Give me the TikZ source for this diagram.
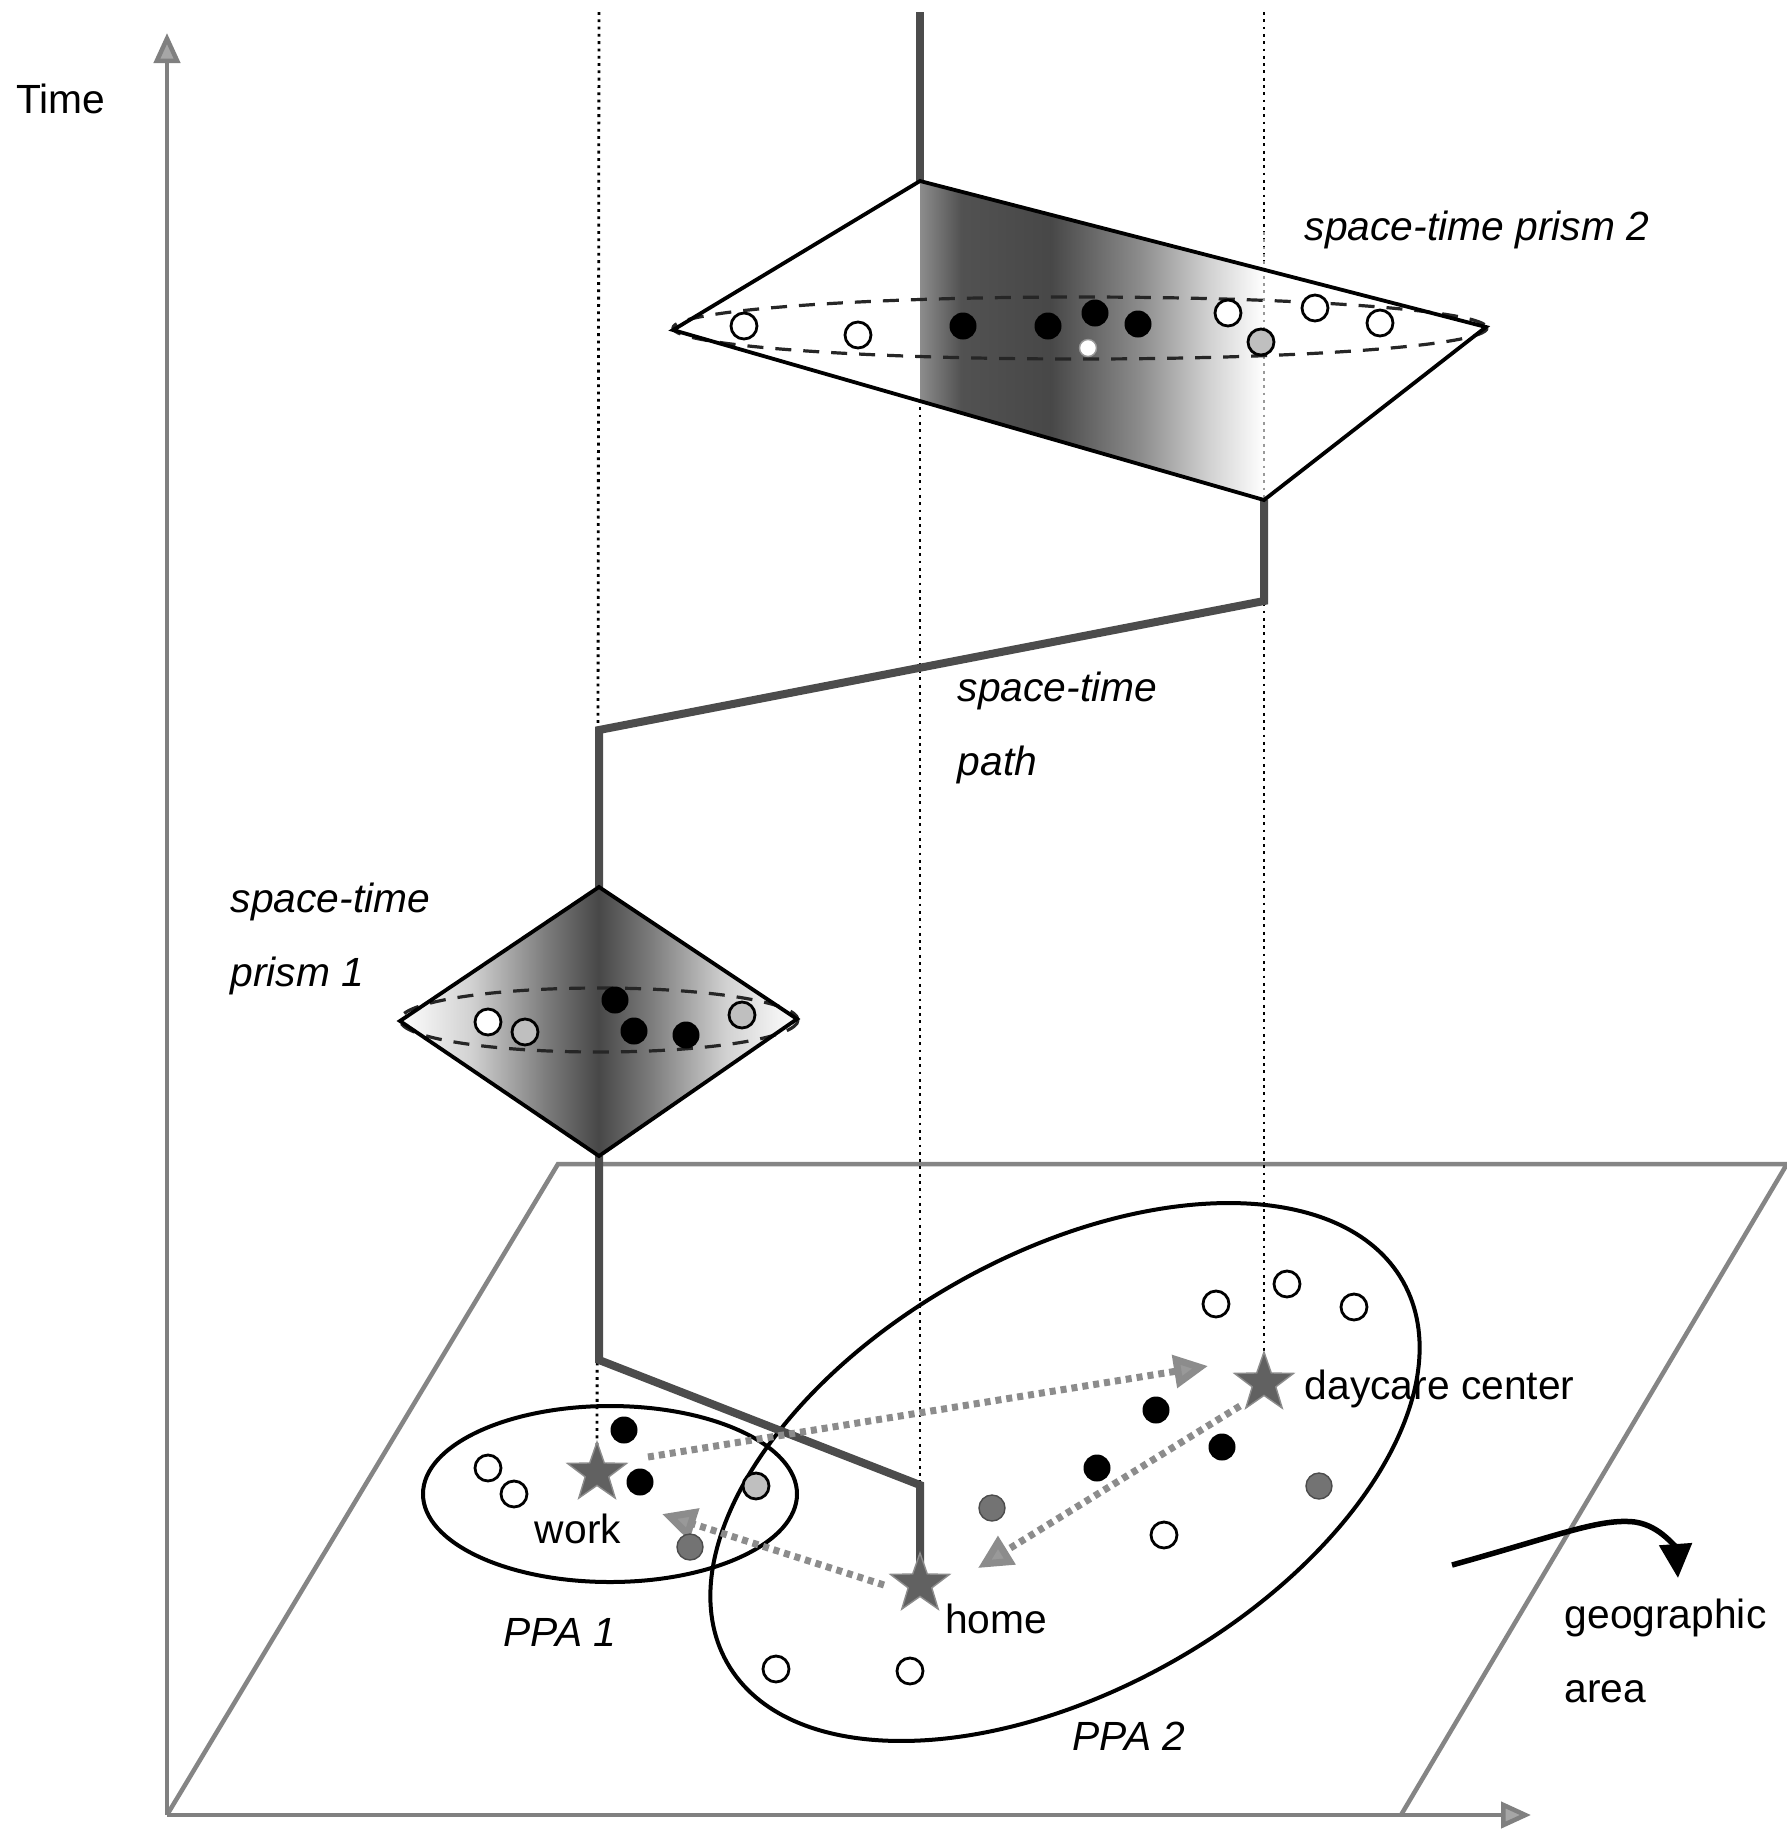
\documentclass[tikz,border=0pt]{standalone}
\usepackage{fontspec}
\setmainfont{Liberation Sans}
\usetikzlibrary{shapes.geometric,arrows.meta}
\pgfdeclarehorizontalshading{prismtwo}{100bp}{color(0bp)=(black!45); color(25bp)=(black!45); color(31bp)=(black!68); color(44bp)=(black!72); color(57bp)=(black!45); color(67bp)=(black!18); color(75bp)=(white); color(100bp)=(white)}
\pgfdeclarehorizontalshading{prismone}{100bp}{color(0bp)=(white); color(25bp)=(white); color(34bp)=(black!18); color(43bp)=(black!50); color(50bp)=(black!72); color(57bp)=(black!50); color(66bp)=(black!18); color(75bp)=(white); color(100bp)=(white)}
\begin{document}
\begin{tikzpicture}[x=0.1mm,y=-0.1mm,
  every node/.style={font=\fontsize{11.6pt}{14pt}\selectfont, inner sep=0pt},
  axisline/.style={draw=black!50, line width=0.45mm},
  planeline/.style={draw=black!48, line width=0.45mm},
  dotline/.style={draw=black, line width=0.28mm, dash pattern=on 0.28mm off 0.45mm},
  stpath/.style={draw=black!70, line width=0.8mm, line join=miter},
  prismedge/.style={draw=black, line width=0.38mm, line join=miter},
  lens/.style={draw=black!85, line width=0.32mm, dash pattern=on 1.6mm off 1.2mm},
  ppa/.style={draw=black, line width=0.4mm},
  opendot/.style={circle, draw=black, line width=0.28mm, fill=white, minimum size=2.6mm},
  blackdot/.style={circle, fill=black, minimum size=2.7mm},
  graydot/.style={circle, fill=black!55, draw=black!70, minimum size=2.6mm},
  lightdot/.style={circle, fill=black!25, draw=black, line width=0.28mm, minimum size=2.6mm},
  place/.style={star, star points=5, star point ratio=2.5, fill=black!62, draw=black!45, minimum size=6.2mm},
  gchain/.style={draw=black!45, line width=0.7mm, dash pattern=on 0.6mm off 0.5mm, -{Triangle[length=3.4mm,width=3.2mm,fill=black!40]}},
  lbl/.style={anchor=west},
  ilbl/.style={anchor=west, font=\fontsize{11.6pt}{14pt}\selectfont\itshape}]
\fill[white] (0,0) rectangle (1787,1830);
\path[use as bounding box] (0,0) rectangle (1787,1830);

% key coordinates
\coordinate (O) at (167,1815);
\coordinate (tTip) at (167,33);
\coordinate (xTip) at (1531,1815);
\coordinate (pl1) at (558,1164);
\coordinate (pl2) at (1787,1164);
\coordinate (pl3) at (1401,1815);
\coordinate (wk) at (597,1473);
\coordinate (hm) at (920,1584);
\coordinate (dc) at (1264,1383);
\coordinate (d1t) at (599,12);
\coordinate (d3t) at (1264,12);
\coordinate (pt) at (920,12);
\coordinate (q2t) at (920,181);
\coordinate (q2l) at (673,330);
\coordinate (q2r) at (1486,327);
\coordinate (q2b) at (1264,500);
\coordinate (d3p) at (1264,232);
\coordinate (c1) at (1264,601);
\coordinate (c2) at (599,730);
\coordinate (q1t) at (599,887);
\coordinate (q1l) at (400,1021);
\coordinate (q1r) at (797,1019);
\coordinate (q1b) at (599,1156);
\coordinate (c3) at (599,1360);
\coordinate (c4) at (920,1485);

% geographic plane and axes
\draw[planeline] (O) -- (pl1) -- (pl2) -- (pl3);
\draw[axisline, -{Triangle[length=3mm,width=2.6mm,fill=black!35]}] (O) -- (tTip);
\draw[axisline, -{Triangle[length=3mm,width=2.6mm,fill=black!35]}] (O) -- (xTip);
\node (time) at (61,99) {Time};

% dotted verticals
\draw[dotline] (d1t) -- (wk);
\draw[dotline] (q2t) -- (hm);
\draw[dotline] (d3t) -- (dc);

% potential path areas
\draw[ppa] (610,1494) ellipse [x radius=187, y radius=88];
\draw[ppa, rotate around={29.4:(1065,1472)}] (1065,1472) ellipse [x radius=388, y radius=218];

% space-time path
\draw[stpath] (pt) -- (q2t);
\draw[stpath] (q2b) -- (c1) -- (c2) -- (q1t);
\draw[stpath] (q1b) -- (c3) -- (c4) -- (hm);

% trips
\coordinate (a1s) at (648,1457); \coordinate (a1e) at (1208,1366);
\coordinate (a2s) at (884,1585); \coordinate (a2e) at (662,1514);
\coordinate (a3s) at (1240,1406); \coordinate (a3e) at (978,1568);
\draw[gchain] (a1s) -- (a1e);
\draw[gchain] (a2s) -- (a2e);
\draw[gchain] (a3s) -- (a3e);

% prism 2
\fill[white] (q2t) -- (q2r) -- (q2b) -- (q2l) -- cycle;
\begin{scope}
\clip (q2t) -- (q2r) -- (q2b) -- (q2l) -- cycle;
\shade[shading=prismtwo] (920,170) rectangle (1264,510);
\end{scope}
\draw[dotline, draw=black!40] (d3p) -- (q2b);
\draw[lens] (1080,328) ellipse [x radius=407, y radius=31];
\draw[prismedge] (q2t) -- (q2r) -- (q2b) -- (q2l) -- cycle;
\node[opendot] (s2a) at (744,326) {};
\node[opendot] (s2b) at (858,335) {};
\node[opendot] (s2c) at (1228,313) {};
\node[opendot] (s2d) at (1315,308) {};
\node[opendot] (s2e) at (1380,323) {};
\node[lightdot] (s2f) at (1261,342) {};
\node[circle, fill=white, draw=black!40, minimum size=1.7mm] (s2g) at (1088,348) {};
\node[blackdot] (s2h) at (963,326) {};
\node[blackdot] (s2i) at (1048,326) {};
\node[blackdot] (s2j) at (1095,313) {};
\node[blackdot] (s2k) at (1138,324) {};

% prism 1
\shade[shading=prismone] (q1t) -- (q1r) -- (q1b) -- (q1l) -- cycle;
\draw[lens] (599,1020) ellipse [x radius=199, y radius=32];
\draw[prismedge] (q1t) -- (q1r) -- (q1b) -- (q1l) -- cycle;
\node[opendot] (s1a) at (488,1022) {};
\node[lightdot] (s1b) at (525,1032) {};
\node[blackdot] (s1c) at (615,1000) {};
\node[blackdot] (s1d) at (634,1031) {};
\node[blackdot] (s1e) at (686,1035) {};
\node[lightdot] (s1f) at (742,1015) {};

% opportunities on the plane
\node[opendot] (g1) at (488,1468) {};
\node[opendot] (g2) at (514,1494) {};
\node[lightdot] (g3) at (756,1486) {};
\node[opendot] (g4) at (1216,1304) {};
\node[opendot] (g5) at (1287,1284) {};
\node[opendot] (g6) at (1354,1307) {};
\node[opendot] (g7) at (1164,1535) {};
\node[opendot] (g8) at (776,1669) {};
\node[opendot] (g9) at (910,1671) {};
\node[blackdot] (g10) at (624,1430) {};
\node[blackdot] (g11) at (640,1482) {};
\node[blackdot] (g12) at (1156,1410) {};
\node[blackdot] (g13) at (1097,1468) {};
\node[blackdot] (g14) at (1222,1447) {};
\node[graydot] (g15) at (690,1547) {};
\node[graydot] (g16) at (992,1508) {};
\node[graydot] (g17) at (1319,1486) {};

% anchors
\node[place] (workstar) at (wk) {};
\node[place] (homestar) at (hm) {};
\node[place] (dcstar) at (dc) {};

% labels
\node (lwork) at (578,1529) {work};
\node (lhome) at (996,1619) {home};
\node[lbl] (ldc) at (1304,1389) {daycare center};
\node[font=\fontsize{11.6pt}{14pt}\selectfont\itshape] (lppa1) at (560,1632) {PPA 1};
\node[font=\fontsize{11.6pt}{14pt}\selectfont\itshape] (lppa2) at (1129,1736) {PPA 2};
\node[lbl] (lgeo1) at (1564,1618) {geographic};
\node[lbl] (lgeo2) at (1564,1692) {area};
\node[ilbl] (lpath1) at (957,691) {space-time};
\node[ilbl] (lpath2) at (957,765) {path};
\node[ilbl] (lp1a) at (230,902) {space-time};
\node[ilbl] (lp1b) at (230,976) {prism 1};
\node[ilbl] (lp2) at (1304,230) {space-time prism 2};

% pointer to the plane
\coordinate (ga1) at (1452,1565);
\coordinate (ga2) at (1678,1578);
\draw[line width=0.55mm, -{Triangle[length=3.4mm,width=3.2mm]}] (ga1) .. controls (1560,1535) and (1600,1518) .. (1635,1522) .. controls (1662,1526) and (1676,1550) .. (ga2);
\end{tikzpicture}
\end{document}
